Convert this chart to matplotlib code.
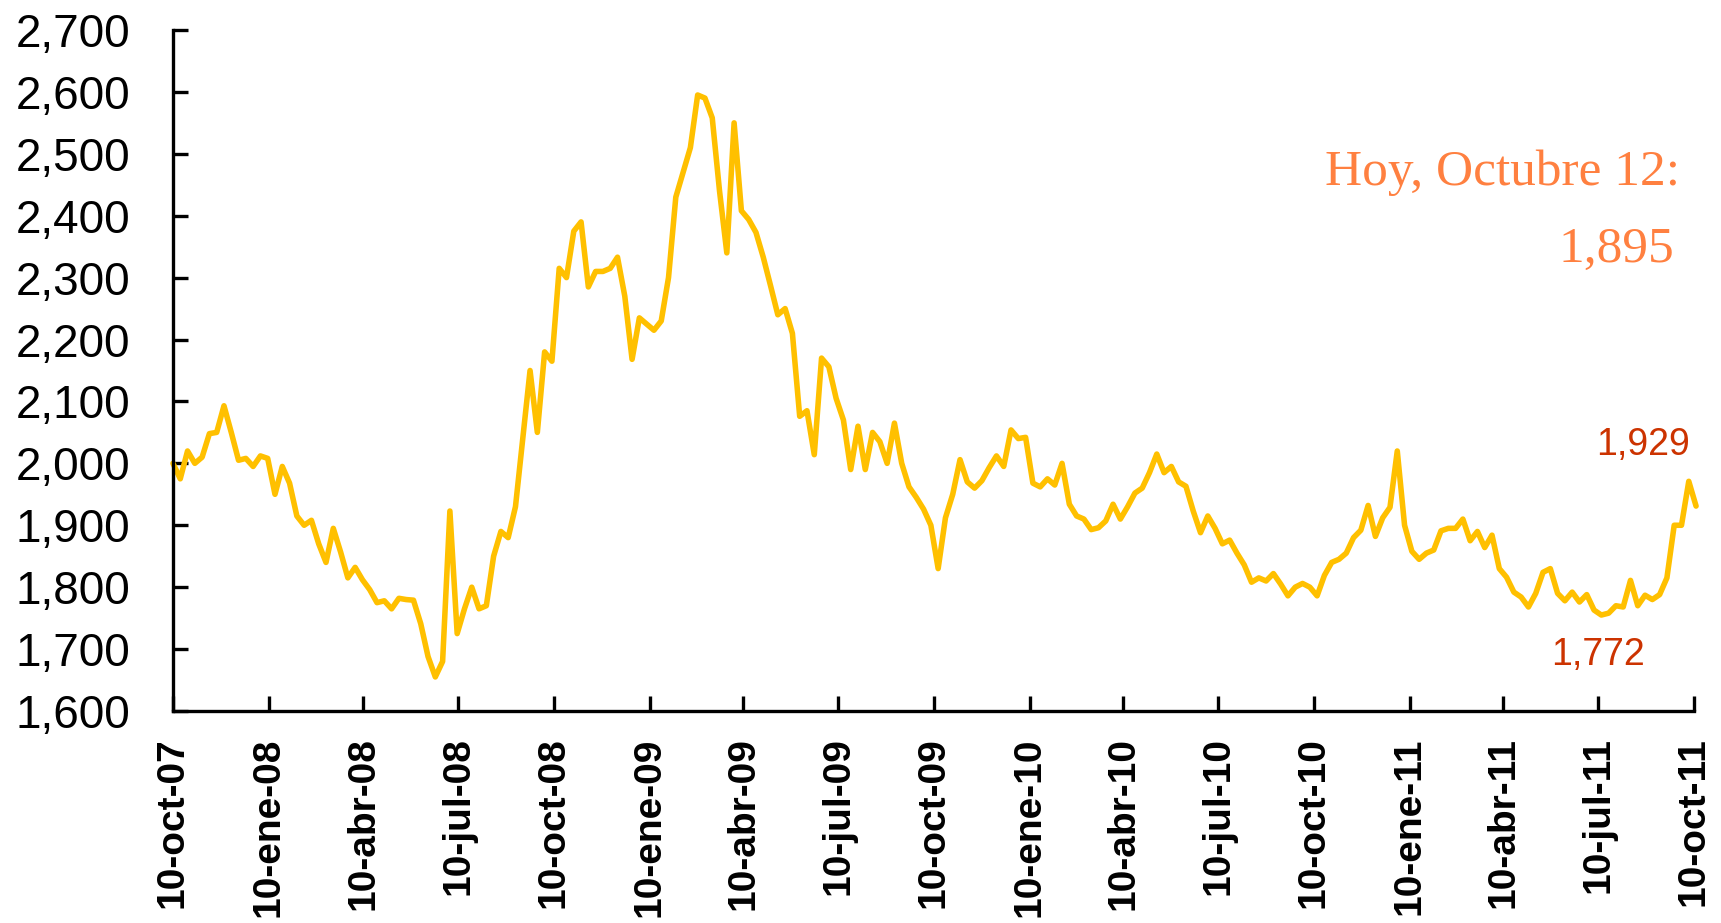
import matplotlib
matplotlib.use("Agg")
import matplotlib.pyplot as plt
import matplotlib.ticker as mticker
import pandas as pd

# weekly closes (10-oct-07 .. 12-oct-11)
values = [
    2000, 1975, 2020, 2000, 2010, 2048, 2050, 2093, 2050, 2005,
    2008, 1995, 2012, 2008, 1950, 1995, 1968, 1915, 1900, 1908,
    1870, 1840, 1895, 1857, 1815, 1832, 1812, 1796, 1775, 1778,
    1765, 1782, 1780, 1779, 1741, 1688,
    1655, 1680, 1923, 1725, 1765, 1800, 1765, 1770, 1850, 1890,
    1880, 1930, 2040, 2150, 2050, 2180, 2165, 2315, 2300, 2375,
    2390, 2285, 2310, 2310, 2315, 2333, 2270, 2168, 2235, 2225,
    2215, 2230, 2300, 2430,
    2470, 2510, 2595, 2590, 2558, 2440, 2340, 2550, 2408, 2394,
    2373, 2333, 2287, 2240, 2250, 2210, 2076, 2085, 2014, 2170,
    2156, 2105, 2070, 1990, 2060, 1990, 2050, 2035, 2000, 2065,
    2000, 1962, 1945, 1926, 1900, 1830, 1912,
    1950, 2006, 1970, 1960, 1972, 1993, 2012, 1995, 2054, 2040,
    2042, 1968, 1962, 1975, 1965, 2000, 1934, 1915, 1910, 1893,
    1896, 1907, 1934, 1910, 1930, 1952, 1960, 1985, 2015, 1985,
    1995, 1970, 1963, 1923, 1888, 1915,
    1895, 1870, 1876, 1855, 1836, 1808, 1815, 1810, 1822, 1805,
    1786, 1800, 1806, 1800, 1786, 1819, 1840, 1845, 1855, 1880,
    1892, 1932, 1882, 1912, 1929, 2020, 1900, 1858, 1845, 1855,
    1860, 1891, 1895, 1895, 1910, 1875,
    1890, 1864, 1884, 1830, 1816, 1792, 1784, 1768, 1790, 1824,
    1830, 1790, 1778, 1792, 1776, 1788, 1763, 1755, 1758, 1770,
    1768, 1811, 1770, 1787, 1780, 1788, 1815, 1900, 1900, 1971,
    1931,
]
dates = pd.date_range("2007-10-10", periods=len(values), freq="7D")

tick_dates = ["2007-10-10", "2008-01-10", "2008-04-10", "2008-07-10",
              "2008-10-10", "2009-01-10", "2009-04-10", "2009-07-10",
              "2009-10-10", "2010-01-10", "2010-04-10", "2010-07-10",
              "2010-10-10", "2011-01-10", "2011-04-10", "2011-07-10",
              "2011-10-10"]
tick_labels = ["10-oct-07", "10-ene-08", "10-abr-08", "10-jul-08",
               "10-oct-08", "10-ene-09", "10-abr-09", "10-jul-09",
               "10-oct-09", "10-ene-10", "10-abr-10", "10-jul-10",
               "10-oct-10", "10-ene-11", "10-abr-11", "10-jul-11",
               "10-oct-11"]

plt.rcParams['font.family'] = ['Liberation Sans', 'DejaVu Sans']

fig = plt.figure(figsize=(17.21, 9.23), dpi=100)
ax = fig.add_axes([0.1005, 0.2297, 0.8838, 0.7378])

ax.plot(dates, values, color='#FFC000', linewidth=4.0, clip_on=False,
        solid_joinstyle='round', solid_capstyle='round')

ax.set_ylim(1600, 2700)
ax.set_yticks(range(1600, 2701, 100))
ax.yaxis.set_major_formatter(mticker.FuncFormatter(lambda v, p: f"{int(v):,}"))
ax.set_xlim(pd.Timestamp(tick_dates[0]), pd.Timestamp(tick_dates[-1]))
ax.set_xticks(pd.to_datetime(tick_dates))
ax.set_xticklabels(tick_labels, rotation=90, fontweight='bold', fontsize=28)

for s in ['top', 'right']:
    ax.spines[s].set_visible(False)
for s in ['left', 'bottom']:
    ax.spines[s].set_linewidth(2.4)

ax.tick_params(axis='y', direction='in', length=11, width=2.4,
               labelsize=33, pad=31)
ax.tick_params(axis='x', direction='in', length=11, width=2.4, pad=19)

ax.text(0.991, 0.791, "Hoy, Octubre 12:", transform=ax.transAxes,
        ha='right', va='center', fontsize=37, color='#FF8040',
        family='Liberation Serif')
ax.text(0.987, 0.677, "1,895", transform=ax.transAxes,
        ha='right', va='center', fontsize=37, color='#FF8040',
        family='Liberation Serif')
ax.text(0.997, 0.39, "1,929", transform=ax.transAxes,
        ha='right', va='center', fontsize=27, color='#CC3300')
ax.text(0.968, 0.082, "1,772", transform=ax.transAxes,
        ha='right', va='center', fontsize=27, color='#CC3300')

fig.savefig("out.png", dpi=100)
